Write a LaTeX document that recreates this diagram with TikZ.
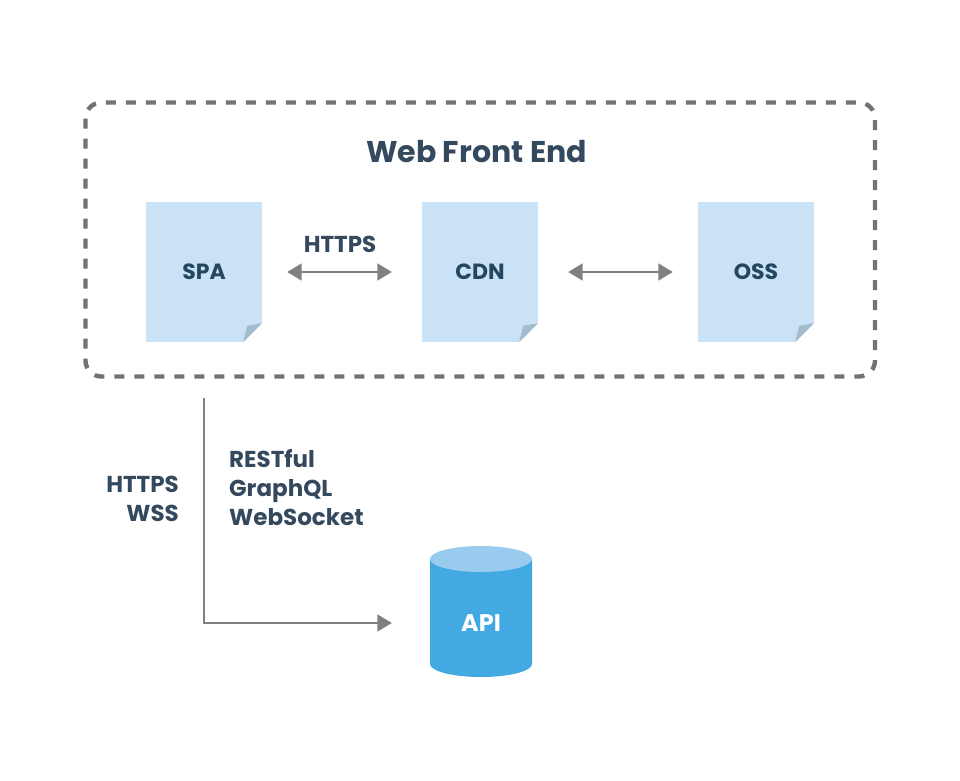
\documentclass[tikz,border=0pt]{standalone}
\usepackage{fontspec}
\setmainfont{Poppins}
\usetikzlibrary{arrows.meta}
\definecolor{ink}{HTML}{34495E}
\definecolor{docink}{HTML}{24465F}
\definecolor{docfill}{HTML}{C9E2F5}
\definecolor{foldfill}{HTML}{A3BCCD}
\definecolor{framegray}{HTML}{737373}
\definecolor{conngray}{HTML}{808080}
\definecolor{cylbody}{HTML}{42A9E2}
\definecolor{cyltop}{HTML}{99CBEE}
\tikzset{
  x=1pt,y=-1pt,
  frame/.style={draw=framegray,line width=4.4pt,dash pattern=on 10pt off 10pt,rounded corners=16pt},
  docbox/.style={fill=docfill,minimum width=116pt,minimum height=140pt,inner sep=0pt,text=docink,font=\fontsize{22}{26}\selectfont\bfseries},
  conn/.style={draw=conngray,line width=1.8pt,-{Triangle[length=14.5pt,width=17pt,fill=conngray]}},
  biconn/.style={conn,{Triangle[length=14.5pt,width=17pt,fill=conngray]}-{Triangle[length=14.5pt,width=17pt,fill=conngray]}},
  lbl/.style={text=ink,inner sep=0pt,font=\fontsize{23}{29}\selectfont\bfseries},
}
\newcommand{\docfold}[1]{%
  \fill[white] ([xshift=-19pt]#1.south east) -- ([yshift=19pt]#1.south east) -- (#1.south east) -- cycle;
  \fill[foldfill] ([xshift=-19pt]#1.south east) -- ([xshift=-15pt,yshift=16.5pt]#1.south east) -- ([yshift=19pt]#1.south east) -- cycle;
}
\begin{document}
\begin{tikzpicture}
\useasboundingbox (0,0) rectangle (960,780);
\fill[white] (0,0) rectangle (960,780);
\draw[frame] (85.5,102.5) rectangle (875,376.5);
\node[text=ink,inner sep=0pt,font=\fontsize{30}{36}\selectfont\bfseries] (title) at (476.5,152) {Web Front End};
\node[docbox] (spa) at (204,272) {SPA};
\node[docbox] (cdn) at (480,272) {CDN};
\node[docbox] (oss) at (756,272) {OSS};
\docfold{spa}\docfold{cdn}\docfold{oss}
\draw[biconn,shorten <=25pt,shorten >=30pt] (spa) -- (cdn);
\draw[biconn,shorten <=30pt,shorten >=25pt] (cdn) -- (oss);
\node[lbl] (https) at (340,244) {HTTPS};
\fill[cylbody] (430,559) -- (430,664) arc[start angle=180,end angle=360,x radius=51,y radius=-13] -- (532,559) -- cycle;
\fill[cyltop] (481,559) ellipse[x radius=51,y radius=13];
\node[inner sep=0pt,minimum width=102pt,text=white,font=\fontsize{24}{28}\selectfont\bfseries] (api) at (481,623) {API};
\draw[conn,shorten <=56pt,shorten >=38pt] (spa.south) |- (api.west);
\node[lbl,align=right,anchor=east] (proto) at (179,499) {HTTPS\\WSS};
\node[lbl,align=left,anchor=west] (styles) at (229,488) {RESTful\\GraphQL\\WebSocket};
\end{tikzpicture}
\end{document}
